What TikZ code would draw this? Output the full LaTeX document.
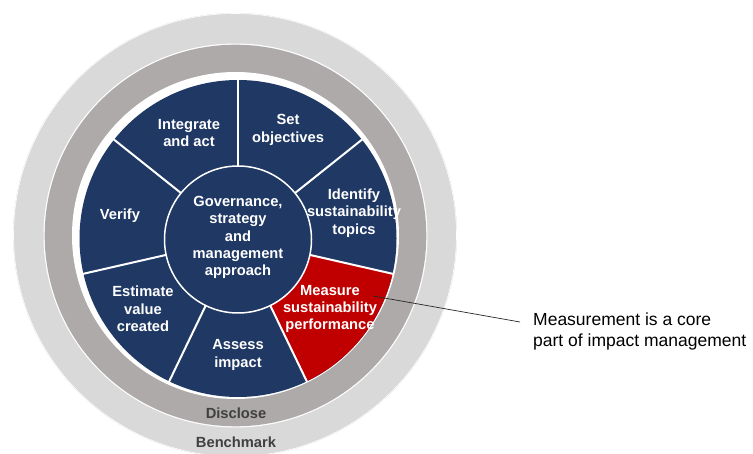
\documentclass[tikz,border=0pt]{standalone}
\usepackage{fontspec}
\setmainfont{Liberation Sans}
\definecolor{navy}{HTML}{1F3864}
\definecolor{segred}{HTML}{C00000}
\definecolor{ringdark}{HTML}{AEAAAA}
\definecolor{ringlight}{HTML}{D9D9D9}
\definecolor{ringtext}{HTML}{404040}
\begin{document}
\begin{tikzpicture}[x=1pt,y=1pt,
  seglabel/.style={text=white, font=\fontsize{14.7}{17.3}\selectfont\bfseries, align=center, inner sep=0pt},
  ringlabel/.style={text=ringtext, font=\fontsize{14.7}{17.3}\selectfont\bfseries, inner sep=0pt},
  notelabel/.style={text=black, font=\fontsize{17.5}{21}\selectfont, align=left, inner sep=0pt},
  divider/.style={white, line width=2pt},
  leader/.style={black!85, line width=0.7pt}]
\useasboundingbox (0,0) rectangle (753,453);
\clip (0,0) rectangle (753,453);
% outer light ring (Benchmark)
\coordinate (oc) at (235,218);
\fill[ringlight] (oc) circle[radius=222];
\draw[white, line width=0.6pt] (oc) circle[radius=221.5];
% dark ring (Disclose)
\coordinate (rc) at (235.5,217.5);
\fill[white] (rc) circle[radius=192];
\fill[ringdark] (rc) circle[radius=190.8];
\fill[white] (rc) circle[radius=163.5];
% wheel
\coordinate (wc) at (238,214.5);
\fill[navy] (wc) circle[radius=158.5];
\fill[segred] (wc) -- ++(-12.857:158.5) arc[start angle=-12.857, end angle=-64.286, radius=158.5] -- cycle;
\foreach \a in {90,38.571,-12.857,-64.286,-115.714,-167.143,141.429}
  \draw[divider] (wc) -- ++(\a:159);
% centre hub
\coordinate (hc) at (238,213.5);
\fill[navy, draw=white, line width=1.5pt] (hc) circle[radius=73.5];
% labels
\node[seglabel] (hub) at (238,215.5) {Governance,\\strategy\\and\\management\\approach};
\node[seglabel] (integrate) at (189,320) {Integrate\\and act};
\node[seglabel] (objectives) at (288,323) {Set\\objectives};
\node[seglabel] (identify) at (354,240) {Identify\\sustainability\\topics};
\node[seglabel] (verify) at (120,237) {Verify};
\node[seglabel] (estimate) at (143,144) {Estimate\\value\\created};
\node[seglabel] (assess) at (238,98) {Assess\\impact};
\node[seglabel] (measure) at (330,144) {Measure\\sustainability\\performance};
\node[ringlabel] (disclose) at (236,40) {Disclose};
\node[ringlabel] (benchmark) at (236,11) {Benchmark};
% annotation
\node[notelabel, anchor=west] (note) at (533,122) {Measurement is a core\\part of impact management};
\coordinate (leadstart) at (373,157);
\coordinate (leadend) at (520,131);
\draw[leader] (leadstart) -- (leadend);
\end{tikzpicture}
\end{document}
